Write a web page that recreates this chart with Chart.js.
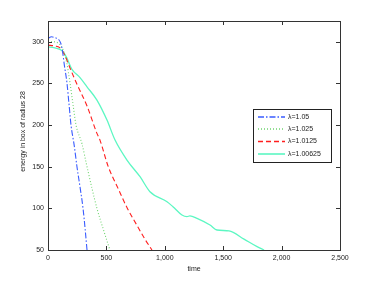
<!DOCTYPE html>
<html><head><meta charset="utf-8">
<script src="https://cdn.jsdelivr.net/npm/chart.js@4"></script>
<style>html,body{margin:0;padding:0;background:#fff}canvas{display:block}</style>
</head><body>
<canvas id="c" width="374" height="281"></canvas>
<script>
const labels = ['λ=1.05', 'λ=1.025', 'λ=1.0125', 'λ=1.00625'];
const tBlue  = [0,30,60,90,110,125,140,162,180,197,225,248,275,300,318,334];
const vBlue  = [304,306,305,303,298,288,272,251,225,200,175,150,125,100,75,50];
const tGreen = [0,50,100,130,160,188,215,240,290,334,375,419,480,530];
const vGreen = [300,300,297,290,275,251,224,200,178,150,125,100,72,50];
const tRed   = [0,60,100,140,190,248,334,419,445,516,600,676,760,830,890];
const vRed   = [296,295,293,285,268,249,223,190,182,150,124,101,80,63,50];
const tCyan  = [0,50,100,130,160,205,274,334,419,505,574,676,788,873,1019,1070,1147,1190,1215,1276,1387,1447,1550,1678,1790,1850];
const vCyan  = [294,293,291,288,281,267,257,246,230,206,182,158,138,120,108,102,92,90,91,88,80,74,73,63,54,50];
const xTicks = [0,500,1000,1500,2000,2500];
const yTicks = [50,100,150,200,250,300];

const pts = (t,v)=>t.map((x,i)=>({x:x,y:v[i]}));
const FONT = {family:'"Liberation Sans", Arial, sans-serif', size:7};

const styles = [
  {color:'#3a5cff', dash:[6,2,1.5,2], width:1.1},
  {color:'#6fd46f', dash:[1,2], width:1.1},
  {color:'#ff1e1e', dash:[5,3], width:1.1},
  {color:'#5cf7c2', dash:[], width:1.3}
];
const series = [pts(tBlue,vBlue), pts(tGreen,vGreen), pts(tRed,vRed), pts(tCyan,vCyan)];

const frame = {
  id:'frame',
  afterDraw(chart){
    const ctx = chart.ctx, a = chart.chartArea;
    const xs = chart.scales.x, ys = chart.scales.y;
    ctx.save();
    ctx.strokeStyle = '#333';
    ctx.lineWidth = 1;
    ctx.setLineDash([]);
    ctx.strokeRect(Math.round(a.left)+0.5, Math.round(a.top)+0.5, Math.round(a.right-a.left), Math.round(a.bottom-a.top));
    ctx.beginPath();
    xTicks.forEach(v=>{
      const px = Math.round(xs.getPixelForValue(v))+0.5;
      ctx.moveTo(px,a.bottom); ctx.lineTo(px,a.bottom-4);
      ctx.moveTo(px,a.top); ctx.lineTo(px,a.top+4);
    });
    yTicks.forEach(v=>{
      const py = Math.round(ys.getPixelForValue(v))+0.5;
      ctx.moveTo(a.left,py); ctx.lineTo(a.left+4,py);
      ctx.moveTo(a.right,py); ctx.lineTo(a.right-4,py);
    });
    ctx.stroke();
    ctx.fillStyle = '#222';
    ctx.font = '7px "Liberation Sans", Arial, sans-serif';
    ctx.textAlign = 'center'; ctx.textBaseline = 'middle';
    ctx.fillText('time', (a.left+a.right)/2, 269);
    ctx.save();
    ctx.translate(23, (a.top+a.bottom)/2 - 4);
    ctx.rotate(-Math.PI/2);
    ctx.fillText('energy in box of radius 28', 0, 0);
    ctx.restore();
    const bx = a.left+205, by = a.top+88, bw = 78, bh = 53;
    ctx.fillStyle = '#fff';
    ctx.fillRect(bx,by,bw,bh);
    ctx.strokeStyle = '#222';
    ctx.strokeRect(bx+0.5,by+0.5,bw,bh);
    const rows = [8,20,32.5,45];
    labels.forEach((l,i)=>{
      const st = styles[i];
      const yy = by+rows[i];
      ctx.beginPath();
      ctx.strokeStyle = st.color; ctx.lineWidth = st.width+0.3;
      ctx.setLineDash(st.dash);
      ctx.moveTo(bx+5,yy); ctx.lineTo(bx+32,yy);
      ctx.stroke();
      ctx.setLineDash([]);
      ctx.fillStyle = '#222';
      ctx.textAlign='left';
      ctx.fillText(l, bx+35, yy);
    });
    ctx.restore();
  }
};

new Chart(document.getElementById('c'), {
  type:'line',
  data:{
    datasets: series.map((d,i)=>({
      label: labels[i], data: d,
      borderColor: styles[i].color, borderDash: styles[i].dash,
      borderWidth: styles[i].width, pointRadius:0, cubicInterpolationMode:'monotone', fill:false
    }))
  },
  options:{
    responsive:false, animation:false, devicePixelRatio:1,
    layout:{padding:{top:21,right:34,left:0,bottom:0}},
    plugins:{legend:{display:false}, tooltip:{enabled:false}},
    scales:{
      x:{type:'linear', min:0, max:2500,
        afterBuildTicks(s){ s.ticks = xTicks.map(v=>({value:v})); },
        afterFit(s){ s.height = 31; },
        grid:{display:false, drawTicks:false}, border:{display:false},
        ticks:{font:FONT, color:'#222', padding:4, maxRotation:0,
          callback:v=>v.toLocaleString('en-US')}
      },
      y:{type:'linear', min:50, max:325,
        afterBuildTicks(s){ s.ticks = yTicks.map(v=>({value:v})); },
        afterFit(s){ s.width = 48; },
        grid:{display:false, drawTicks:false}, border:{display:false},
        ticks:{font:FONT, color:'#222', padding:4}
      }
    }
  },
  plugins:[frame]
});
</script>
</body></html>
